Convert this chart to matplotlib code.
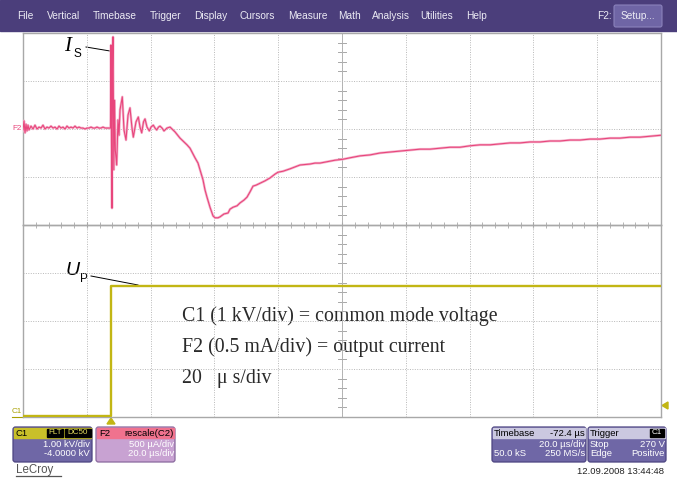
import matplotlib
matplotlib.use("Agg")
import matplotlib.pyplot as plt
from matplotlib.patches import Rectangle, Polygon, FancyBboxPatch
import numpy as np

# ---------------- data ----------------
# F2 : output current (mA) vs time (us), 20 us/div
f2_pre_time_us = [0.00, 0.31, 0.63, 0.94, 1.25, 1.57, 1.88, 2.51, 3.14, 3.76, 4.39, 5.02,
                  5.64, 6.27, 6.90, 7.52, 8.15, 8.78, 9.41, 10.03, 10.66, 11.29, 11.91, 12.54,
                  13.17, 13.79, 14.42, 15.05, 15.68, 16.30, 16.93, 17.56, 18.18, 18.81, 19.44, 20.06,
                  20.69, 21.32, 21.95, 22.57, 23.20, 23.83, 24.45, 25.08, 25.71, 26.33, 26.96, 27.27]
f2_pre_mA = [-0.02, 0.17, -0.08, 0.10, -0.04, 0.08, -0.02, 0.06, 0.00, 0.08, 0.00, 0.04,
             0.02, 0.08, 0.00, 0.04, 0.02, 0.06, 0.02, 0.04, 0.00, 0.06, 0.02, 0.04,
             0.00, 0.06, 0.02, 0.04, 0.02, 0.06, 0.02, 0.04, 0.02, 0.02, 0.00, 0.02,
             0.02, 0.04, 0.02, 0.02, 0.04, 0.02, 0.02, 0.04, 0.02, 0.02, 0.02, 0.02]

f2_ring_time_us = [27.43, 27.59, 27.74, 27.90, 28.05, 28.22, 28.47, 28.69, 28.94, 29.37, 29.78, 30.10,
                   30.41, 31.13, 31.66, 32.29, 32.92, 33.54, 34.17, 34.58, 35.43, 36.15, 36.68, 37.21,
                   37.78, 38.25, 38.87, 39.60, 40.13, 40.85, 41.38, 41.91, 42.48, 42.95, 43.58, 44.20,
                   45.14, 46.09, 46.71]
f2_ring_mA = [0.02, 1.75, -0.23, -1.65, 1.23, 1.92, -0.85, 0.60, -0.44, -0.75, 0.19, -0.13,
              0.40, 0.67, -0.02, -0.23, 0.29, 0.44, 0.02, -0.17, 0.15, 0.25, 0.04, -0.08,
              0.15, 0.21, 0.04, -0.04, 0.04, 0.08, 0.02, -0.02, 0.04, 0.06, 0.02, -0.04,
              0.02, 0.04, 0.00]

f2_rec_time_us = [47.65, 49.22, 50.79, 51.41, 52.35, 52.98, 53.92, 54.86, 55.49, 56.43, 57.06, 57.68,
                  58.62, 59.57, 60.19, 61.13, 61.76, 63.01, 64.27, 64.89, 65.84, 67.09, 68.03, 69.28,
                  70.22, 71.16, 72.11, 73.05, 74.30, 75.87, 77.43, 79.00, 79.94, 81.51, 83.70, 85.27,
                  86.84, 89.97, 91.54, 93.11, 96.24, 97.81, 100.32, 102.51, 105.65, 108.78, 111.92, 115.05,
                  118.19, 121.32, 124.46, 127.59, 130.73, 133.86, 137.00, 140.13, 143.27, 146.40, 149.54, 152.67,
                  155.81, 158.94, 162.08, 165.21, 168.35, 171.48, 174.62, 177.75, 180.89, 184.02, 187.16, 190.29,
                  193.43, 196.56, 200.00]
f2_rec_mA = [-0.06, -0.19, -0.29, -0.33, -0.40, -0.48, -0.60, -0.71, -0.85, -1.06, -1.27, -1.42,
             -1.63, -1.81, -1.85, -1.85, -1.83, -1.77, -1.75, -1.67, -1.63, -1.60, -1.54, -1.48,
             -1.42, -1.31, -1.19, -1.17, -1.13, -1.08, -1.02, -0.94, -0.90, -0.88, -0.83, -0.79,
             -0.75, -0.73, -0.71, -0.71, -0.67, -0.65, -0.63, -0.60, -0.56, -0.54, -0.50, -0.48,
             -0.46, -0.44, -0.42, -0.42, -0.40, -0.38, -0.38, -0.35, -0.33, -0.33, -0.31, -0.29,
             -0.29, -0.27, -0.27, -0.25, -0.25, -0.23, -0.23, -0.21, -0.21, -0.19, -0.19, -0.17,
             -0.17, -0.15, -0.13]

# C1 : common-mode voltage (kV) vs time (us)
c1_time_us = [0.0, 27.6, 27.6, 200.0]
c1_kV = [0.04, 0.04, 5.46, 5.46]

menu_items = ["File", "Vertical", "Timebase", "Trigger", "Display", "Cursors",
              "Measure", "Math", "Analysis", "Utilities", "Help"]
menu_x = [17, 47, 93, 150, 194, 240, 288, 338, 372, 420, 466]

note_lines = ["C1 (1 kV/div) = common mode voltage",
              "F2 (0.5 mA/div) = output current",
              "20   \u03bc s/div"]

# ---------------- figure ----------------
W, H = 677, 480
fig = plt.figure(figsize=(W / 100, H / 100), dpi=100)
fig.patch.set_facecolor("white")

bg = fig.add_axes([0, 0, 1, 1])
bg.set_xlim(0, W)
bg.set_ylim(H, 0)
bg.axis("off")

SANS = "Liberation Sans"
SERIF = "Liberation Serif"
PINK = "#e8467c"
YEL = "#c2b614"
GRIDC = "#b8b8b8"

# menu bar
bg.add_patch(Rectangle((0, 0), W, 31, color="#4b3e7b", zorder=1))
for name, x in zip(menu_items, menu_x):
    bg.text(x, 16, name, fontsize=7.3, family=SANS, color="#ecebf4", va="center", ha="left", zorder=2)
bg.text(597, 16, "F2:", fontsize=7.3, family=SANS, color="#ecebf4", va="center", zorder=2)
bg.add_patch(FancyBboxPatch((614, 5), 48, 22, boxstyle="round,pad=0,rounding_size=2",
                            fc="#6f65a5", ec="#8a82bb", lw=0.8, zorder=2))
bg.text(638, 16, "Setup...", fontsize=7.3, family=SANS, color="#ecebf4", va="center", ha="center", zorder=3)

# grid axes
gx0, gx1, gy0, gmid, gy1 = 23, 661, 33, 225, 417


def frac(x0, y0, x1, y1):
    return [x0 / W, 1 - y1 / H, (x1 - x0) / W, (y1 - y0) / H]


ax_i = fig.add_axes(frac(gx0, gy0, gx1, gmid))
ax_v = fig.add_axes(frac(gx0, gmid, gx1, gy1))
for ax in (ax_i, ax_v):
    ax.set_facecolor("none")
    ax.set_xlim(0, 200)
    ax.set_xticks(np.arange(20, 200, 20))
    ax.grid(True, color=GRIDC, linestyle=(0, (1, 1.5)), linewidth=0.7)
    ax.tick_params(labelbottom=False, labelleft=False, length=0)
    for s in ax.spines.values():
        s.set_color("#a8a8a8")
        s.set_linewidth(1.0)
    ax.axvline(100, color="#b0b0b0", lw=0.7, zorder=1)

ax_i.set_ylim(-2, 2)
ax_i.set_yticks([-1, 0, 1])
ax_v.set_ylim(0, 8)
ax_v.set_yticks([2, 4, 6])

# minor ticks on central axes
ax_i.set_xticks(np.arange(4, 200, 4), minor=True)
ax_i.tick_params(axis="x", which="both", direction="inout", length=5, color="#a8a8a8", bottom=True)
ax_i.set_yticks(np.arange(-1.8, 2, 0.2), minor=True)
ax_v.set_yticks(np.arange(0.4, 8, 0.4), minor=True)
for ax in (ax_i, ax_v):
    ax.tick_params(axis="y", which="minor", length=0)
    for yv in ax.get_yticks(minor=True):
        ax.plot([98.9, 101.1], [yv, yv], color="#a8a8a8", lw=0.7, zorder=1)

# traces
f2_t = f2_pre_time_us + f2_ring_time_us + f2_rec_time_us
f2_i = f2_pre_mA + f2_ring_mA + f2_rec_mA
ax_i.plot(f2_t, f2_i, color="#f4b4cc", lw=1.8, zorder=3, solid_joinstyle="round")
ax_i.plot(f2_t, f2_i, color=PINK, lw=0.8, zorder=4)
ax_v.plot(c1_time_us, c1_kV, color=YEL, lw=1.7, zorder=4, solid_capstyle="butt")

# channel markers
bg.text(12, 128, "F2", fontsize=5.8, family=SANS, color=PINK, va="center", ha="left", zorder=5)
bg.text(12, 411.5, "C1", fontsize=5.8, family=SANS, color="#a8a000", va="center", ha="left", zorder=5)
bg.plot([12, 22], [416.5, 416.5], color="#a8a000", lw=0.8, zorder=5)
bg.add_patch(Polygon([[107, 424], [115, 424], [111, 418]], closed=True, color=YEL, zorder=5))
bg.add_patch(Polygon([[668, 402], [668, 409], [662, 405.5]], closed=True, color=YEL, zorder=5))

# annotations
bg.text(64, 51, "I", fontsize=15, family=SERIF, style="italic", color="black", va="baseline", zorder=6)
bg.text(73, 57, "S", fontsize=8.5, family=SANS, color="black", va="baseline", zorder=6)
bg.plot([86, 110], [47, 51], color="black", lw=0.7, zorder=6)
bg.text(66, 275, "U", fontsize=14, family=SANS, style="italic", color="black", va="baseline", zorder=6)
bg.text(80, 282, "P", fontsize=8.5, family=SANS, color="black", va="baseline", zorder=6)
bg.plot([91, 138], [276, 285], color="black", lw=0.7, zorder=6)

for k, line in enumerate(note_lines):
    bg.text(182, 321 + 31 * k, line, fontsize=14.3, family=SERIF, color="#2a2a2a",
            va="baseline", ha="left", zorder=6)


# info boxes
def infobox(x0, x1, head_c, body_c, edge_c):
    bg.add_patch(FancyBboxPatch((x0, 427), x1 - x0, 35, boxstyle="round,pad=0,rounding_size=2.5",
                                fc=body_c, ec=edge_c, lw=0.9, zorder=5))
    bg.add_patch(Rectangle((x0 + 1, 428), x1 - x0 - 2, 10, color=head_c, zorder=6))


FS = 6.8
infobox(13, 92, "#c9c02a", "#6f67a6", "#4c4481")
bg.text(15, 433, "C1", fontsize=FS, family=SANS, color="black", va="center", zorder=7)
bg.add_patch(Rectangle((47, 429), 16, 8, color="black", zorder=7))
bg.text(55, 433, "FLT", fontsize=5.8, family=SANS, color="#e8e060", va="center", ha="center", zorder=8)
bg.add_patch(Rectangle((64.5, 429), 26, 8, color="black", zorder=7))
bg.text(77.5, 433, "DC50", fontsize=5.8, family=SANS, color="#e8e060", va="center", ha="center", zorder=8)
bg.text(90, 444.5, "1.00 kV/div", fontsize=FS, family=SANS, color="white", va="center", ha="right", zorder=7)
bg.text(90, 454, "-4.0000 kV", fontsize=FS, family=SANS, color="white", va="center", ha="right", zorder=7)

infobox(96, 175, "#f0728e", "#c8a2d2", "#8a6a9e")
bg.text(99, 433, "F2", fontsize=FS, family=SANS, color="black", va="center", zorder=7)
bg.text(174, 433, "rescale(C2)", fontsize=FS, family=SANS, color="black", va="center", ha="right", zorder=7)
bg.text(174, 444.5, "500 \u00b5A/div", fontsize=FS, family=SANS, color="white", va="center", ha="right", zorder=7)
bg.text(174, 454, "20.0 \u00b5s/div", fontsize=FS, family=SANS, color="white", va="center", ha="right", zorder=7)

infobox(492, 586, "#cbc8e0", "#6f67a6", "#4c4481")
bg.text(494, 433, "Timebase", fontsize=FS, family=SANS, color="black", va="center", zorder=7)
bg.text(585, 433, "-72.4 \u00b5s", fontsize=FS, family=SANS, color="black", va="center", ha="right", zorder=7)
bg.text(585, 444.5, "20.0 \u00b5s/div", fontsize=FS, family=SANS, color="white", va="center", ha="right", zorder=7)
bg.text(494, 454, "50.0 kS", fontsize=FS, family=SANS, color="white", va="center", zorder=7)
bg.text(585, 454, "250 MS/s", fontsize=FS, family=SANS, color="white", va="center", ha="right", zorder=7)

infobox(588, 666, "#cbc8e0", "#6f67a6", "#4c4481")
bg.text(590, 433, "Trigger", fontsize=FS, family=SANS, color="black", va="center", zorder=7)
bg.add_patch(Rectangle((650, 429), 14, 8, color="black", zorder=7))
bg.text(657, 433, "C1", fontsize=5.8, family=SANS, color="white", va="center", ha="center", zorder=8)
bg.text(590, 444.5, "Stop", fontsize=FS, family=SANS, color="white", va="center", zorder=7)
bg.text(665, 444.5, "270 V", fontsize=FS, family=SANS, color="white", va="center", ha="right", zorder=7)
bg.text(590, 454, "Edge", fontsize=FS, family=SANS, color="white", va="center", zorder=7)
bg.text(665, 454, "Positive", fontsize=FS, family=SANS, color="white", va="center", ha="right", zorder=7)

bg.text(16, 470, "LeCroy", fontsize=8.3, family=SANS, color="#555555", va="center", zorder=7)
bg.plot([16, 61], [476, 476], color="#555555", lw=0.9, zorder=7)
bg.text(664, 471, "12.09.2008 13:44:48", fontsize=6.8, family=SANS, color="#222222",
        va="center", ha="right", zorder=7)

fig.savefig("out.png", dpi=100, facecolor="white")
